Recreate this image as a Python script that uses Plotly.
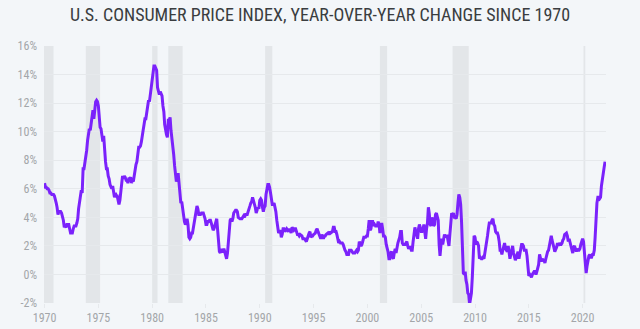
import pandas as pd
import plotly.graph_objects as go

# Monthly CPI year-over-year change (%), Jan 1970 - Feb 2022
cpi_by_year = {
    1970: [6.4, 6.1, 6.1, 6.0, 6.0, 5.9, 5.7, 5.7, 5.6, 5.6, 5.6, 5.5],
    1971: [5.3, 5.0, 4.7, 4.2, 4.4, 4.4, 4.4, 4.3, 4.1, 3.8, 3.3, 3.4],
    1972: [3.3, 3.5, 3.5, 3.5, 3.2, 2.9, 2.9, 2.9, 3.2, 3.4, 3.4, 3.4],
    1973: [3.6, 3.9, 4.6, 5.1, 5.5, 5.9, 5.7, 7.4, 7.4, 7.8, 8.3, 8.7],
    1974: [9.4, 10.0, 10.2, 10.1, 10.7, 10.9, 11.5, 10.9, 11.9, 12.1, 12.2, 12.1],
    1975: [11.8, 11.2, 10.3, 10.2, 9.5, 9.3, 9.7, 8.6, 7.9, 7.4, 7.4, 6.9],
    1976: [6.7, 6.3, 6.1, 6.0, 6.2, 5.9, 5.4, 5.7, 5.5, 5.5, 5.1, 4.9],
    1977: [5.2, 5.9, 6.4, 6.9, 6.7, 6.9, 6.8, 6.6, 6.6, 6.4, 6.7, 6.7],
    1978: [6.8, 6.4, 6.6, 6.5, 6.9, 7.4, 7.7, 7.9, 8.3, 8.9, 8.9, 9.0],
    1979: [9.3, 9.9, 10.1, 10.5, 10.9, 10.9, 11.3, 11.8, 12.2, 12.1, 12.6, 13.3],
    1980: [13.9, 14.2, 14.6, 14.6, 14.4, 14.3, 13.1, 12.9, 12.6, 12.8, 12.6, 12.5],
    1981: [11.8, 11.4, 10.5, 10.0, 9.8, 9.6, 10.8, 10.8, 11.0, 10.1, 9.6, 8.9],
    1982: [8.4, 7.6, 6.8, 6.5, 6.7, 7.1, 6.4, 5.9, 5.0, 5.1, 4.6, 3.8],
    1983: [3.7, 3.5, 3.6, 3.9, 3.5, 2.6, 2.5, 2.6, 2.9, 2.9, 3.3, 3.8],
    1984: [4.2, 4.6, 4.8, 4.6, 4.2, 4.2, 4.2, 4.3, 4.3, 4.3, 4.1, 3.9],
    1985: [3.5, 3.5, 3.7, 3.7, 3.8, 3.8, 3.6, 3.3, 3.1, 3.2, 3.5, 3.8],
    1986: [3.9, 3.1, 2.2, 1.6, 1.5, 1.8, 1.6, 1.6, 1.8, 1.5, 1.3, 1.1],
    1987: [1.5, 2.1, 3.0, 3.8, 3.9, 3.7, 3.9, 4.3, 4.4, 4.5, 4.5, 4.4],
    1988: [4.0, 3.9, 3.9, 3.9, 3.9, 4.0, 4.1, 4.0, 4.2, 4.2, 4.2, 4.4],
    1989: [4.7, 4.8, 5.0, 5.1, 5.4, 5.2, 5.0, 4.7, 4.3, 4.5, 4.7, 4.6],
    1990: [5.2, 5.3, 5.2, 4.7, 4.4, 4.7, 4.8, 5.6, 6.2, 6.3, 6.3, 6.1],
    1991: [5.7, 5.3, 4.9, 4.9, 5.0, 4.7, 4.4, 3.8, 3.4, 2.9, 3.0, 3.1],
    1992: [2.6, 2.8, 3.2, 3.2, 3.0, 3.1, 3.2, 3.1, 3.0, 3.2, 3.0, 2.9],
    1993: [3.3, 3.2, 3.1, 3.2, 3.2, 3.0, 2.8, 2.8, 2.7, 2.8, 2.7, 2.7],
    1994: [2.5, 2.5, 2.5, 2.4, 2.3, 2.5, 2.8, 2.9, 3.0, 2.6, 2.7, 2.7],
    1995: [2.8, 2.9, 2.9, 3.1, 3.2, 3.0, 2.8, 2.6, 2.5, 2.8, 2.6, 2.5],
    1996: [2.7, 2.7, 2.8, 2.9, 2.9, 2.8, 3.0, 2.9, 3.0, 3.0, 3.3, 3.3],
    1997: [3.0, 3.0, 2.8, 2.5, 2.2, 2.3, 2.2, 2.2, 2.2, 2.1, 1.8, 1.7],
    1998: [1.6, 1.4, 1.4, 1.4, 1.7, 1.7, 1.7, 1.6, 1.5, 1.5, 1.5, 1.6],
    1999: [1.7, 1.6, 1.7, 2.3, 2.1, 2.0, 2.1, 2.3, 2.6, 2.6, 2.6, 2.7],
    2000: [2.7, 3.2, 3.8, 3.1, 3.2, 3.7, 3.7, 3.4, 3.5, 3.4, 3.4, 3.4],
    2001: [3.7, 3.5, 2.9, 3.3, 3.6, 3.2, 2.7, 2.7, 2.6, 2.1, 1.9, 1.6],
    2002: [1.1, 1.1, 1.5, 1.6, 1.2, 1.1, 1.5, 1.8, 1.5, 2.0, 2.2, 2.4],
    2003: [2.6, 3.0, 3.0, 2.2, 2.1, 2.1, 2.1, 2.2, 2.3, 2.0, 1.8, 1.9],
    2004: [1.9, 1.7, 1.7, 2.3, 3.1, 3.3, 3.0, 2.7, 2.5, 3.2, 3.5, 3.3],
    2005: [3.0, 3.0, 3.1, 3.5, 2.8, 2.5, 3.2, 3.6, 4.7, 4.3, 3.5, 3.4],
    2006: [4.0, 3.6, 3.4, 3.5, 4.2, 4.3, 4.1, 3.8, 2.1, 1.3, 2.0, 2.5],
    2007: [2.1, 2.4, 2.8, 2.6, 2.7, 2.7, 2.4, 2.0, 2.8, 3.5, 4.3, 4.1],
    2008: [4.3, 4.0, 4.0, 3.9, 4.2, 5.0, 5.6, 5.4, 4.9, 3.7, 1.1, 0.1],
    2009: [0.0, 0.2, -0.4, -0.7, -1.3, -1.4, -2.1, -1.5, -1.3, -0.2, 1.8, 2.7],
    2010: [2.6, 2.1, 2.3, 2.2, 2.0, 1.1, 1.2, 1.1, 1.1, 1.2, 1.1, 1.5],
    2011: [1.6, 2.1, 2.7, 3.2, 3.6, 3.6, 3.6, 3.8, 3.9, 3.5, 3.4, 3.0],
    2012: [2.9, 2.9, 2.7, 2.3, 1.7, 1.7, 1.4, 1.7, 2.0, 2.2, 1.8, 1.7],
    2013: [1.6, 2.0, 1.5, 1.1, 1.4, 1.8, 2.0, 1.5, 1.2, 1.0, 1.2, 1.5],
    2014: [1.6, 1.1, 1.5, 2.0, 2.1, 2.1, 2.0, 1.7, 1.7, 1.7, 1.3, 0.8],
    2015: [-0.1, 0.0, -0.1, -0.2, 0.0, 0.1, 0.2, 0.2, 0.0, 0.2, 0.5, 0.7],
    2016: [1.4, 1.0, 0.9, 1.1, 1.0, 1.0, 0.8, 1.1, 1.5, 1.6, 1.7, 2.1],
    2017: [2.5, 2.7, 2.4, 2.2, 1.9, 1.6, 1.7, 1.9, 2.2, 2.0, 2.2, 2.1],
    2018: [2.1, 2.2, 2.4, 2.5, 2.8, 2.9, 2.9, 2.7, 2.3, 2.5, 2.2, 1.9],
    2019: [1.6, 1.5, 1.9, 2.0, 1.8, 1.6, 1.8, 1.7, 1.7, 1.8, 2.1, 2.3],
    2020: [2.5, 2.3, 1.5, 0.3, 0.1, 0.6, 1.0, 1.3, 1.4, 1.2, 1.2, 1.4],
    2021: [1.4, 1.7, 2.6, 4.2, 5.0, 5.4, 5.4, 5.3, 5.4, 6.2, 6.8, 7.0],
    2022: [7.5, 7.9],
}

# NBER recessions (start, end)
recession_starts = ["1969-12-01", "1973-11-01", "1980-01-01", "1981-07-01",
                    "1990-07-01", "2001-03-01", "2007-12-01", "2020-02-01"]
recession_ends = ["1970-11-01", "1975-03-01", "1980-07-01", "1982-11-01",
                  "1991-03-01", "2001-11-01", "2009-06-01", "2020-04-01"]

x_tick_years = [1970, 1975, 1980, 1985, 1990, 1995, 2000, 2005, 2010, 2015, 2020]
y_ticks = [-2, 0, 2, 4, 6, 8, 10, 12, 14, 16]

values = [v for yr in sorted(cpi_by_year) for v in cpi_by_year[yr]]
dates = pd.date_range("1970-01-01", periods=len(values), freq="MS")

BG = "#f3f6f9"
FONT_FAMILY = "Liberation Sans Narrow, Roboto Condensed, Roboto, sans-serif"
TICK_FONT = dict(family=FONT_FAMILY, size=12, color="#a3a6a9")

fig = go.Figure()
fig.add_trace(go.Scatter(
    x=dates, y=values, mode="lines",
    line=dict(color="#7b22fb", width=3),
    hoverinfo="skip", showlegend=False,
))

for s, e in zip(recession_starts, recession_ends):
    fig.add_shape(type="rect", xref="x", yref="paper", x0=s, x1=e, y0=0, y1=1,
                  fillcolor="#e3e6e9", line=dict(width=0), layer="below")

fig.update_layout(
    width=640, height=329,
    paper_bgcolor=BG, plot_bgcolor=BG,
    margin=dict(l=44, r=34, t=46, b=26),
    title=dict(text="U.S. CONSUMER PRICE INDEX, YEAR-OVER-YEAR CHANGE SINCE 1970",
               x=0.5, xanchor="center", y=1 - 15 / 329, yanchor="middle",
               font=dict(family=FONT_FAMILY, size=18, color="#3a3d40")),
)

fig.update_xaxes(
    type="date", automargin=False,
    range=["1969-12-13", "2022-03-05"],
    tickvals=[f"{y}-01-01" for y in x_tick_years],
    ticktext=[str(y) for y in x_tick_years],
    showgrid=False, zeroline=False,
    showline=False,
    ticks="outside", ticklen=4, tickcolor="#e6e9ec", tickwidth=1,
    tickfont=TICK_FONT,
)
fig.update_yaxes(
    range=[-2, 16], automargin=False,
    tickvals=y_ticks,
    ticktext=[f"{v}%" for v in y_ticks],
    showgrid=True, gridcolor="#e6e9ec", gridwidth=1,
    zeroline=False, showline=False,
    ticklabelstandoff=6,
    tickfont=TICK_FONT,
)

fig.write_html("out.html")
